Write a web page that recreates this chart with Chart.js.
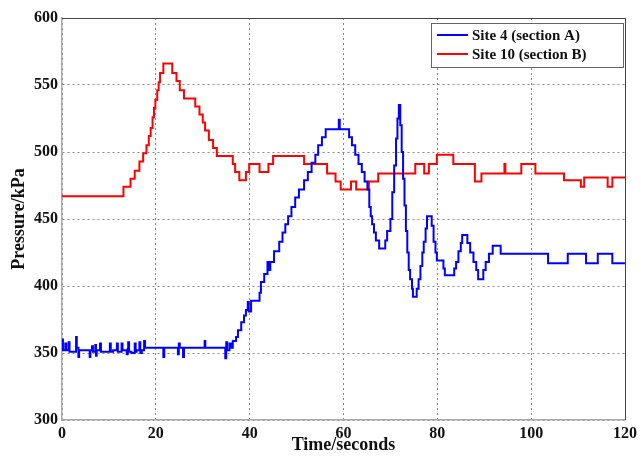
<!DOCTYPE html>
<html>
<head>
<meta charset="utf-8">
<script src="https://cdn.jsdelivr.net/npm/chart.js@4.4.1/dist/chart.umd.min.js"></script>
<style>
  html, body { margin: 0; padding: 0; background: #fff; }
  #wrap { width: 641px; height: 456px; position: relative; }
</style>
</head>
<body>
<div id="wrap"><canvas id="grafica"></canvas></div>
<script>
// Site 4 (section A): time where each level starts, pressure level (kPa)
const site4Time = [0, 0.2, 0.7, 0.9, 1.4, 1.6, 3.0, 3.15, 3.5, 3.65, 5.9, 6.05, 6.4, 6.6, 7.1, 7.25, 7.4, 8.1, 8.3,
  10.2, 10.4, 10.9, 11.7, 11.9, 12.7, 12.9, 13.8, 14.0, 14.1, 14.3, 14.8, 15.5, 15.7, 15.9, 16.5, 16.7, 17.0, 17.5, 17.7,
  21.6, 21.8, 24.7, 24.9, 25.1, 25.8, 26.0, 30.4, 30.55, 34.8, 35.0, 35.2, 35.7, 36.0, 36.4,
  37.1, 37.5, 38.2, 38.8, 39.2, 39.6, 39.8, 40.3, 42.1, 42.4, 43.1, 43.8, 44.2, 44.4, 45.2, 46.3,
  47.0, 47.6, 48.2, 48.9, 49.7, 50.5, 51.6, 52.4, 53.2, 54.0, 54.6, 55.4, 56.2, 59.0, 59.2,
  61.2, 61.8, 62.5, 63.2, 63.9, 64.5, 65.1, 65.5, 65.8, 66.1, 66.5, 66.9, 67.6, 68.9, 69.3,
  70.0, 70.4, 70.8, 71.2, 71.5, 71.8, 72.1, 72.4, 72.7, 73.0, 73.3, 73.6, 73.9, 74.2, 74.6, 74.8,
  75.6, 76.0, 76.4, 76.8, 77.1, 77.5, 77.8, 78.8, 79.2, 79.6, 79.9, 81.3, 81.6, 83.6, 84.0, 84.5,
  85.0, 85.3, 86.4, 87.0, 87.7, 88.3, 88.7, 89.8, 90.3, 91.0, 91.8, 93.5, 103.6, 107.8, 111.7, 114.2, 117.3, 120];
const site4Pressure = [360, 352, 357, 352, 358, 351, 362, 354, 347, 352, 347, 352, 355, 351, 356, 348, 352, 357, 351,
  357, 351, 352, 357, 351, 357, 352, 349, 353, 358, 351, 350, 357, 351, 352, 358, 350, 352, 359, 354,
  347, 354, 349, 357, 354, 347, 354, 359, 354, 346, 358, 352, 357, 354, 359,
  362, 367, 373, 378, 382, 388, 381, 389, 395, 403, 409, 418, 412, 418, 426, 433,
  440, 446, 452, 459, 466, 472, 479, 485, 492, 498, 505, 511, 517, 524, 517,
  511, 505, 498, 491, 485, 478, 472, 459, 452, 446, 440, 434, 428, 434, 441,
  450, 470, 490, 510, 525, 535, 520, 500, 480, 460, 441, 425, 412, 405, 398, 392,
  398, 405, 415, 425, 433, 443, 452, 445, 433, 425, 419, 413, 408, 413, 418, 426,
  432, 438, 432, 425, 418, 412, 405, 412, 418, 424, 430, 424, 417, 424, 417, 424, 417, 417];

// Site 10 (section B)
const site10Time = [0, 13.1, 14.6, 15.5, 16.5, 17.3, 18.0, 18.5, 18.9, 19.3, 19.6, 19.9, 20.3, 20.6, 20.9, 21.6,
  23.5, 24.4, 25.1, 26.0, 28.4, 29.3, 30.0, 30.5, 31.3, 32.2, 33.0, 36.4, 36.9, 37.8, 39.2, 39.9, 42.1, 44.0, 45.0,
  51.6, 56.5, 58.3, 59.4, 61.6, 62.7, 65.4, 67.4, 75.3, 77.2, 78.2, 79.9, 83.4, 88.0, 89.4, 94.3, 94.5,
  97.9, 100.9, 107.0, 110.6, 111.3, 116.3, 117.3, 120];
const site10Pressure = [467, 474, 480, 486, 493, 499, 505, 512, 518, 526, 533, 539, 546, 552, 559, 566,
  559, 553, 546, 540, 534, 528, 522, 516, 509, 503, 497, 491, 485, 479, 485, 491, 485, 491, 497,
  491, 484, 478, 472, 478, 472, 478, 484, 491, 484, 491, 498, 491, 478, 484, 491, 484,
  491, 484, 479, 474, 481, 474, 481, 481];

const seriesLabels = ['Site 4 (section A)', 'Site 10 (section B)'];
const seriesColors = ['#0000ff', '#ff0000'];
const xTicks = [0, 20, 40, 60, 80, 100, 120];
const yTicks = [300, 350, 400, 450, 500, 550, 600];

const toPoints = (ts, vs) => ts.map((t, i) => ({ x: t, y: vs[i] }));
const serif = "'Liberation Serif', 'Times New Roman', serif";

// MATLAB-style box and legend inside the plot
const boxLegend = {
  id: 'boxLegend',
  afterDatasetsDraw(chart) {
    const { ctx, chartArea: a } = chart;
    ctx.save();
    ctx.strokeStyle = '#444';
    ctx.lineWidth = 1;
    ctx.beginPath();
    ctx.moveTo(a.left, a.top + 0.5);
    ctx.lineTo(a.right + 0.5, a.top + 0.5);
    ctx.lineTo(a.right + 0.5, a.bottom);
    ctx.stroke();

    const bx = 431, by = 23, bw = 192, bh = 44;
    ctx.fillStyle = '#fff';
    ctx.fillRect(bx, by, bw, bh);
    ctx.strokeStyle = '#666';
    ctx.strokeRect(bx + 0.5, by + 0.5, bw, bh);
    ctx.font = 'bold 15px ' + serif;
    ctx.textBaseline = 'middle';
    seriesLabels.forEach((lab, i) => {
      const yy = by + 12 + i * 19;
      ctx.strokeStyle = seriesColors[i];
      ctx.lineWidth = 2;
      ctx.beginPath();
      ctx.moveTo(437, yy);
      ctx.lineTo(468, yy);
      ctx.stroke();
      ctx.fillStyle = '#111';
      ctx.fillText(lab, 472, yy + 1);
    });
    ctx.restore();
  }
};

new Chart(document.getElementById('grafica').getContext('2d'), {
  type: 'line',
  data: {
    datasets: [
      { label: seriesLabels[0], data: toPoints(site4Time, site4Pressure), borderColor: seriesColors[0],
        borderWidth: 2, pointRadius: 0, stepped: true, fill: false },
      { label: seriesLabels[1], data: toPoints(site10Time, site10Pressure), borderColor: seriesColors[1],
        borderWidth: 2, pointRadius: 0, stepped: true, fill: false }
    ]
  },
  options: {
    responsive: true,
    maintainAspectRatio: false,
    animation: false,
    layout: { padding: { top: 18, right: 12, left: 0, bottom: 0 } },
    plugins: { legend: { display: false }, tooltip: { enabled: false } },
    scales: {
      x: {
        type: 'linear', min: 0, max: 120,
        afterBuildTicks: s => { s.ticks = xTicks.map(v => ({ value: v })); },
        afterFit: s => { s.height = 36; },
        grid: { color: '#888', drawTicks: false },
        border: { color: '#aaa', width: 1.5, dash: [2, 3] },
        ticks: { color: '#111', padding: 4, font: { family: serif, size: 16, weight: 'bold' }, maxRotation: 0 },
        title: { display: true, text: 'Time/seconds', color: '#111', padding: { top: -4, bottom: 0 },
          font: { family: serif, size: 18, weight: 'bold' } }
      },
      y: {
        min: 300, max: 600,
        afterBuildTicks: s => { s.ticks = yTicks.map(v => ({ value: v })); },
        afterFit: s => { s.width = 62; },
        grid: { color: '#888', drawTicks: false },
        border: { color: '#aaa', width: 1.5, dash: [2, 3] },
        ticks: { color: '#111', padding: 4, font: { family: serif, size: 16, weight: 'bold' } },
        title: { display: true, text: 'Pressure/kPa', color: '#111', padding: { top: 9, bottom: 0 },
          font: { family: serif, size: 18, weight: 'bold' } }
      }
    }
  },
  plugins: [boxLegend]
});
</script>
</body>
</html>
